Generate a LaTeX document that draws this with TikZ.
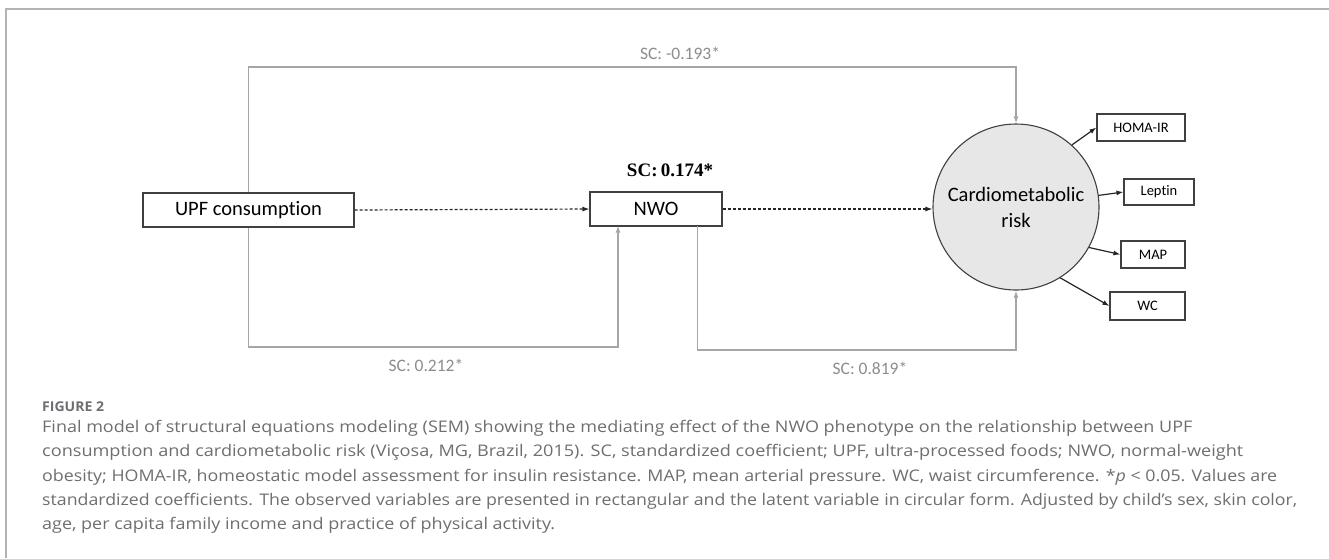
\documentclass[tikz,border=0pt]{standalone}
\usepackage{fontspec}
\usepackage{graphicx}
\setmainfont{Carlito}[Ligatures=NoCommon]
\newfontfamily\capfont{Open Sans}
\newfontfamily\serifbold{Liberation Serif}
\usetikzlibrary{arrows.meta}
\definecolor{framegray}{HTML}{B3B3B3}
\definecolor{linkgray}{HTML}{A6A6A6}
\definecolor{labelgray}{HTML}{8C8C8C}
\definecolor{boxdark}{HTML}{404040}
\definecolor{circfill}{HTML}{E7E7E7}
\definecolor{capgray}{HTML}{6D6E71}
\newcommand{\capfit}[2]{\resizebox{#1}{\height}{#2}}
\tikzset{
  obsbox/.style={draw=boxdark, line width=1.1pt, fill=white, inner sep=0pt, font=\fontsize{20.5}{24}\selectfont},
  smallbox/.style={draw=boxdark, line width=1.1pt, fill=white, inner sep=0pt, font=\fontsize{14.5}{17}\selectfont},
  latent/.style={circle, draw=boxdark, line width=1.1pt, fill=circfill, inner sep=0pt, minimum size=166pt, align=center, font=\fontsize{20.5}{26}\selectfont},
  graylink/.style={draw=linkgray, line width=1.3pt, -{Latex[length=7pt,width=5pt]}},
  dashlink/.style={draw=black!85, line width=1.2pt, dash pattern=on 3pt off 2pt, -{Latex[length=7pt,width=5pt]}},
  blacklink/.style={draw=black!85, line width=1.2pt, -{Latex[length=7pt,width=5pt]}},
  sclabel/.style={text=labelgray, inner sep=0pt, font=\fontsize{17.5}{20}\selectfont},
  capline/.style={anchor=west, inner sep=0pt, text=capgray, font=\capfont\fontsize{16}{19}\selectfont}
}
\begin{document}
\begin{tikzpicture}[x=1pt,y=-1pt]
\useasboundingbox (0,0) rectangle (1329,558);
% frame
\draw[framegray, line width=1.5pt] (6,558) -- (6,9) -- (1329,9);

% nodes
\node[obsbox, minimum width=211pt, minimum height=34pt] (upf) at (248.5,210) {UPF consumption};
\node[obsbox, minimum width=132pt, minimum height=34pt] (nwo) at (656,209) {NWO};
\node[latent] (crm) at (1016,207) {Cardiometabolic\\risk};
\node[smallbox, minimum width=88pt, minimum height=27pt] (homa) at (1141,127.5) {HOMA-IR};
\node[smallbox, minimum width=70pt, minimum height=26pt] (leptin) at (1159,192) {Leptin};
\node[smallbox, minimum width=64pt, minimum height=27pt] (map) at (1153,254.5) {MAP};
\node[smallbox, minimum width=75pt, minimum height=28pt] (wc) at (1147.5,306) {WC};

% coordinates for bends
\coordinate (topbend) at (248.5,67);
\coordinate (blbend) at (248.5,347);
\coordinate (nwoin) at (618,225.5);
\coordinate (nwoout) at (697.5,225.5);
\coordinate (brbend) at (697.5,350);

% gray paths
\draw[graylink] (upf.north) -- (topbend) -| (crm.north);
\draw[graylink] (upf.south) -- (blbend) -| (nwoin);
\draw[graylink] (nwoout) -- (brbend) -| (crm.south);

% dashed paths
\draw[dashlink] (upf.east) -- (nwo.west);
\draw[dashlink] (nwo.east) -- (nwo.east -| crm.west);

% indicators
\draw[blacklink] (crm.48) -- (homa.west);
\draw[blacklink] (crm.8) -- (leptin.west);
\draw[blacklink] (crm.-29) -- (map.west);
\draw[blacklink] (crm.-58) -- (wc.west);

% labels
\node[sclabel] (l1) at (680,53) {SC: -0.193*};
\node[sclabel] (l2) at (426,365) {SC: 0.212*};
\node[sclabel] (l3) at (870,368) {SC: 0.819*};
\node[inner sep=0pt, font=\serifbold\bfseries\fontsize{19}{22}\selectfont] (l4) at (670,170) {SC:\,0.174*};

% caption
\node[capline, font=\capfont\bfseries\fontsize{13.5}{16}\selectfont] (fig) at (42,407) {\capfit{62pt}{FIGURE 2}};
\node[capline] (c1) at (42,428) {\capfit{1150pt}{Final model of structural equations modeling (SEM) showing the mediating effect of the NWO phenotype on the relationship between UPF}};
\node[capline] (c2) at (42,452) {\capfit{1201pt}{consumption and cardiometabolic risk (Viçosa, MG, Brazil, 2015). SC, standardized coefficient; UPF, ultra-processed foods; NWO, normal-weight}};
\node[capline] (c3) at (42,477) {\capfit{1235pt}{obesity; HOMA-IR, homeostatic model assessment for insulin resistance. MAP, mean arterial pressure. WC, waist circumference. *\textit{p} < 0.05. Values are}};
\node[capline] (c4) at (42,501) {\capfit{1255pt}{standardized coefficients. The observed variables are presented in rectangular and the latent variable in circular form. Adjusted by child’s sex, skin color,}};
\node[capline] (c5) at (42,525) {\capfit{513pt}{age, per capita family income and practice of physical activity.}};
\end{tikzpicture}
\end{document}
